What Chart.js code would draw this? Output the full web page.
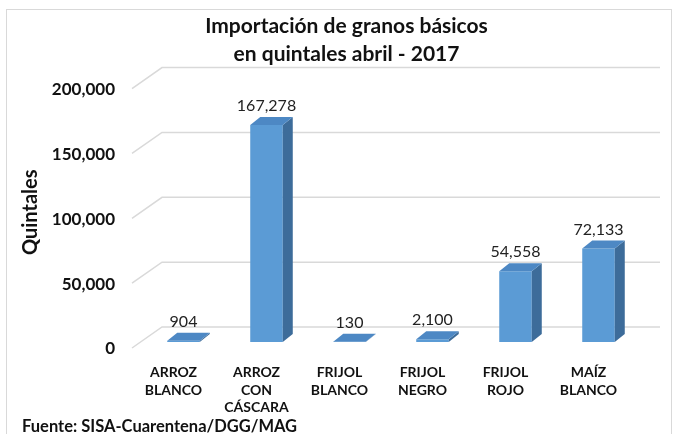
<!DOCTYPE html>
<html>
<head>
<meta charset="utf-8">
<script src="https://cdn.jsdelivr.net/npm/chart.js@4/dist/chart.umd.min.js"></script>
<style>
  body { margin: 0; background: #fff; }
  #wrap { position: relative; width: 673px; height: 434px; overflow: hidden; }
  #frame { position: absolute; left: 6px; top: 9px; width: 664px; height: 440px; border: 1px solid #d9d9d9; }
  #chart { position: absolute; left: 0; top: 0; }
  #src { position: absolute; left: 22px; top: 416px; font: bold 16.5px Lato, sans-serif; color: #111; white-space: nowrap; }
</style>
</head>
<body>
<div id="wrap">
  <div id="frame"></div>
  <canvas id="chart" width="673" height="434"></canvas>
  <div id="src">Fuente: SISA-Cuarentena/DGG/MAG</div>
</div>
<script>
(function () {
  'use strict';

  // ── Data ────────────────────────────────────────────────────────────────────
  const categories = [
    ['ARROZ', 'BLANCO'],
    ['ARROZ', 'CON', 'CÁSCARA'],
    ['FRIJOL', 'BLANCO'],
    ['FRIJOL', 'NEGRO'],
    ['FRIJOL', 'ROJO'],
    ['MAÍZ', 'BLANCO']
  ];
  const quintales = [904, 167278, 130, 2100, 54558, 72133];
  const yTicks    = [0, 50000, 100000, 150000, 200000];
  const titleLines = ['Importación de granos básicos', 'en quintales abril - 2017'];

  // ── Look ────────────────────────────────────────────────────────────────────
  const FONT   = 'Lato, sans-serif';
  const FRONT  = '#5b9bd5';
  const TOP    = '#4d88c4';
  const SIDE   = '#3d6c9a';
  const GRID   = '#d9d9d9';
  const DX = 10, DY = -8;          // bar depth
  const fmt = v => v.toLocaleString('en-US');

  // back wall gridlines + left wall diagonals
  const wallPlugin = {
    id: 'wall',
    beforeDatasetsDraw(chart) {
      const { ctx, chartArea, scales: { y } } = chart;
      ctx.save();
      ctx.strokeStyle = GRID;
      ctx.lineWidth = 1.5;
      yTicks.forEach(v => {
        const py = y.getPixelForValue(v);
        ctx.beginPath();
        ctx.moveTo(chartArea.left - 10, py + 6);
        ctx.lineTo(chartArea.left + 20, py - 15);
        ctx.lineTo(chartArea.right + 20, py - 15);
        ctx.stroke();
      });
      ctx.restore();
    }
  };

  // top + side faces, then value labels
  const bars3d = {
    id: 'bars3d',
    afterDatasetsDraw(chart) {
      const { ctx } = chart;
      const meta = chart.getDatasetMeta(0);
      ctx.save();
      meta.data.forEach((bar, i) => {
        const { x, y, base, width } = bar.getProps(['x', 'y', 'base', 'width'], true);
        const l = x - width / 2, r = x + width / 2;
        ctx.fillStyle = SIDE;
        ctx.beginPath();
        ctx.moveTo(r, y); ctx.lineTo(r + DX, y + DY); ctx.lineTo(r + DX, base + DY); ctx.lineTo(r, base);
        ctx.closePath(); ctx.fill();
        ctx.fillStyle = TOP;
        ctx.beginPath();
        ctx.moveTo(l, y); ctx.lineTo(r, y); ctx.lineTo(r + DX, y + DY); ctx.lineTo(l + DX, y + DY);
        ctx.closePath(); ctx.fill();

        ctx.fillStyle = '#222';
        ctx.font = '16px ' + FONT;
        ctx.textAlign = 'center';
        ctx.textBaseline = 'middle';
        ctx.fillText(fmt(quintales[i]), x, y - 19);
      });
      ctx.restore();
    }
  };

  new Chart(document.getElementById('chart'), {
    type: 'bar',
    data: {
      labels: categories,
      datasets: [{
        data: quintales,
        backgroundColor: FRONT,
        borderWidth: 0,
        barPercentage: 0.8,
        categoryPercentage: 0.49
      }]
    },
    options: {
      responsive: false,
      animation: false,
      layout: { padding: { left: 20, right: 0, top: 0, bottom: 0 } },
      plugins: {
        legend: { display: false },
        tooltip: { enabled: false },
        title: {
          display: true,
          text: titleLines,
          color: '#111',
          font: { family: FONT, size: 21, weight: 'bold', lineHeight: 1.3 },
          padding: { top: 13, bottom: 15 }
        }
      },
      scales: {
        x: {
          grid: { display: false, drawTicks: false },
          border: { display: false },
          ticks: {
            color: '#111',
            font: { family: FONT, size: 14, weight: 'bold', lineHeight: 1.25 },
            padding: 22,
            labelOffset: -10,
            maxRotation: 0,
            autoSkip: false
          },
          afterFit: s => { s.height = 92; }
        },
        y: {
          min: 0,
          max: 200000,
          afterBuildTicks: s => { s.ticks = yTicks.map(v => ({ value: v })); },
          grid: { display: false, drawTicks: false },
          border: { display: false },
          ticks: {
            color: '#111',
            font: { family: FONT, size: 17, weight: 'bold' },
            padding: 27,
            labelOffset: 7,
            callback: v => fmt(v)
          },
          title: {
            display: true,
            text: 'Quintales',
            color: '#111',
            font: { family: FONT, size: 20, weight: 'bold', lineHeight: 1.1 },
            padding: 0
          },
          afterFit: s => { s.width = 122; }
        },
        y2: {
          position: 'right',
          display: true,
          grid: { display: false, drawTicks: false },
          border: { display: false },
          ticks: { display: false },
          afterFit: s => { s.width = 33; }
        }
      }
    },
    plugins: [wallPlugin, bars3d]
  });
})();
</script>
</body>
</html>
